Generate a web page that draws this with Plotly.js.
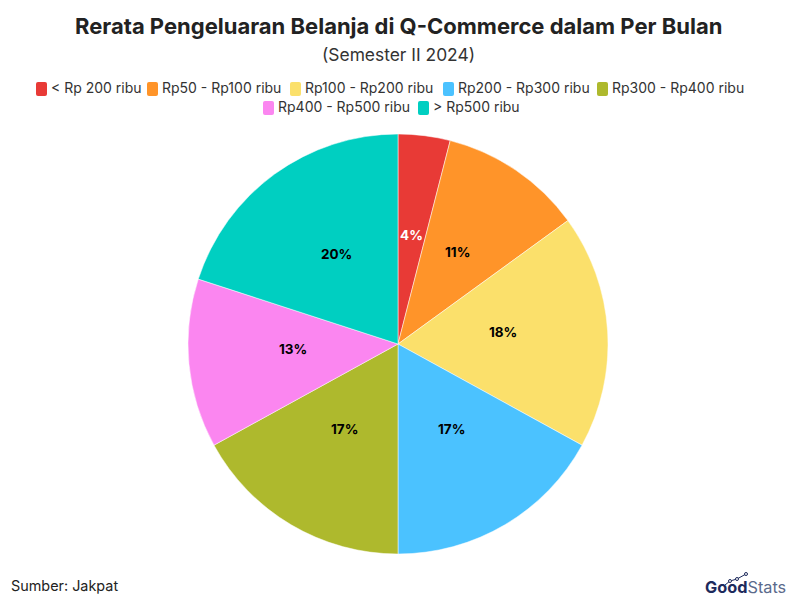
<!DOCTYPE html>
<html><head><meta charset="utf-8">
<script src="https://cdn.plot.ly/plotly-3.0.1.min.js"></script>
<style>html,body{margin:0;padding:0;background:#fff}#c{width:795px;height:607px}</style>
</head><body><div id="c"></div>
<script>
const categories=["< Rp 200 ribu","Rp50 - Rp100 ribu","Rp100 - Rp200 ribu","Rp200 - Rp300 ribu","Rp300 - Rp400 ribu","Rp400 - Rp500 ribu","> Rp500 ribu"];
const shares=[4,11,18,17,17,13,20];
const colors=["#E83A36","#FF9429","#FBE06B","#4BC2FF","#AEB92D","#FB86F0","#00CFC1"];
const labelColors=["#ffffff","#000000","#000000","#000000","#000000","#000000","#000000"];
const F="Inter, Lato, sans-serif";
const legendRows=[[0,1,2,3,4],[5,6]];
const rowY=[89,108];
const rowX=[[36,147,290,443,597],[263,418]];
const logoX=[725,730,737,746], logoY=[585,581,579,574];
const px=(x)=>x/795, py=(y)=>1-y/607;
const cx=398, cy=344, R=210, labelR=105, labelLift=5;
const shapes=[],annotations=[
 {text:"<b>Rerata Pengeluaran Belanja di Q-Commerce dalam Per Bulan</b>",x:px(398),y:py(26),yanchor:"middle",xref:"paper",yref:"paper",showarrow:false,font:{family:F,size:22,color:"#222"}},
 {text:"(Semester II 2024)",x:px(398),y:py(54),yanchor:"middle",xref:"paper",yref:"paper",showarrow:false,font:{family:F,size:17.4,color:"#333"}},
 {text:"Sumber: Jakpat",x:px(9),y:py(585),yanchor:"middle",xref:"paper",yref:"paper",xanchor:"left",showarrow:false,font:{family:F,size:14.4,color:"#222"}},
 {text:"<b>Good</b><span style='color:#5b6a8c'>Stats</span>",x:px(788),y:py(587),yanchor:"middle",xref:"paper",yref:"paper",xanchor:"right",showarrow:false,font:{family:F,size:16.3,color:"#1d2a5c"}}
];
legendRows.forEach((row,r)=>row.forEach((i,k)=>{
 const x=rowX[r][k],y=rowY[r];
 const X=(v)=>px(x+v), Y=(v)=>py(y+v), c=2;
 shapes.push({type:"path",xref:"paper",yref:"paper",
  path:`M ${X(c)} ${Y(-7)} L ${X(11-c)} ${Y(-7)} Q ${X(11)} ${Y(-7)} ${X(11)} ${Y(-7+c)} L ${X(11)} ${Y(7-c)} Q ${X(11)} ${Y(7)} ${X(11-c)} ${Y(7)} L ${X(c)} ${Y(7)} Q ${X(0)} ${Y(7)} ${X(0)} ${Y(7-c)} L ${X(0)} ${Y(-7+c)} Q ${X(0)} ${Y(-7)} ${X(c)} ${Y(-7)} Z`,
  fillcolor:colors[i],line:{width:0}});
 annotations.push({text:categories[i],x:px(x+12.5),y:py(y-1),yanchor:"middle",xref:"paper",yref:"paper",xanchor:"left",showarrow:false,font:{family:F,size:14,color:"#333"}});
}));
let cum=0;
const total=shares.reduce((a,b)=>a+b,0);
shares.forEach((v,i)=>{
 const a=(cum+v/2)/total*2*Math.PI; cum+=v;
 annotations.push({text:"<b>"+v+"%</b>",x:px(cx+labelR*Math.sin(a)),y:py(cy-labelR*Math.cos(a)-labelLift),xref:"paper",yref:"paper",xanchor:"center",yanchor:"middle",showarrow:false,font:{family:F,size:13.5,color:labelColors[i]}});
});
for(let i=0;i<logoX.length-1;i++) shapes.push({type:"line",xref:"paper",yref:"paper",x0:px(logoX[i]),y0:py(logoY[i]),x1:px(logoX[i+1]),y1:py(logoY[i+1]),line:{color:"#1d2a5c",width:1}});
logoX.slice(1).forEach((x,i)=>{const y=logoY[i+1];shapes.push({type:"circle",xref:"paper",yref:"paper",x0:px(x-1.5),x1:px(x+1.5),y0:py(y+1.5),y1:py(y-1.5),fillcolor:"#fff",line:{color:"#1d2a5c",width:1}});});
Plotly.newPlot("c",[{type:"pie",labels:categories,values:shares,sort:false,direction:"clockwise",rotation:0,
 marker:{colors:colors,line:{color:"#fff",width:0.5}},
 textinfo:"none",
 domain:{x:[px(cx-R),px(cx+R)],y:[py(cy+R),py(cy-R)]},hoverinfo:"label+percent"}],
 {width:795,height:607,margin:{l:0,r:0,t:0,b:0},paper_bgcolor:"#fff",showlegend:false,shapes:shapes,annotations:annotations},
 {displayModeBar:false});
</script></body></html>
